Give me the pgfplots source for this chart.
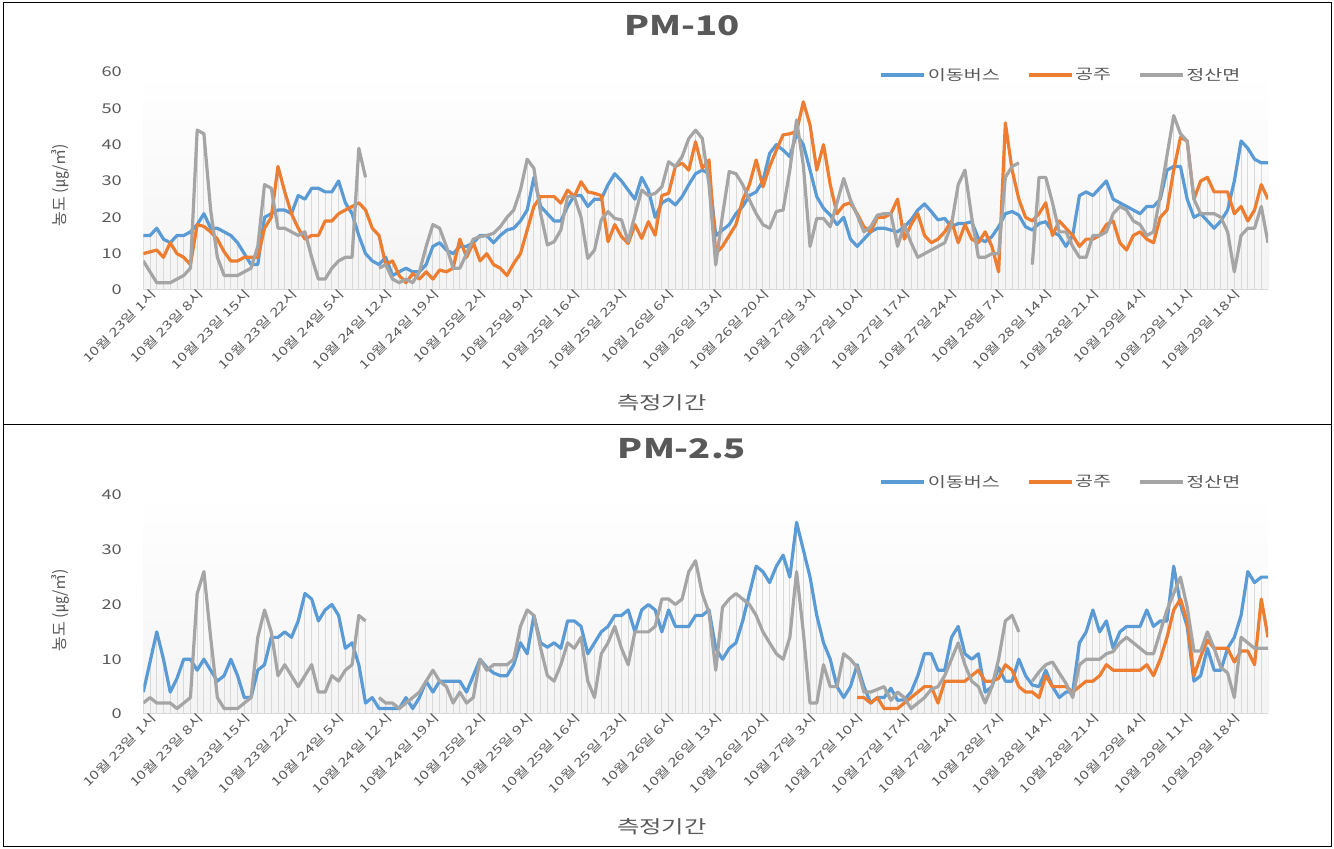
\documentclass[border=0pt]{standalone}
\usepackage{pgfplots}
\pgfplotsset{compat=1.18}
\usepackage{pgfplotstable}
\usepackage{fontspec}
\setmainfont{Noto Sans CJK KR}[FakeStretch=1.35]
\newfontfamily\plainfont{Noto Sans CJK KR}
\definecolor{cblue}{HTML}{5B9BD5}
\definecolor{corange}{HTML}{ED7D31}
\definecolor{cgray}{HTML}{A5A5A5}
\definecolor{ctext}{HTML}{595959}
\definecolor{cdrop}{HTML}{D9D9D9}

\pgfplotstableread{
i b o g
0 15 10 8
1 15 10.5 5
2 17 11 2
3 14 9 2
4 13 13 2
5 15 10 3
6 15 9 4
7 16 7 6
8 18 18 44
9 21 17.5 43
10 17 16 22
11 17 14 9
12 16 10.5 4
13 15 8 4
14 13 8 4
15 10 9 5
16 7 9 6
17 7 9 12
18 20 17 29
19 21 20 28
20 22 34 17
21 22 27 17
22 21 21 16
23 26 17 15
24 25 14 16
25 28 15 9
26 28 15 3
27 27 19 3
28 27 19 6
29 30 21 8
30 24 22 9
31 21 23 9
32 15 24 39
33 10 22 31
34 8 17 nan
35 7 15 6
36 9 7 7
37 4 8 3
38 5 4 2
39 6 2 3
40 5 4.5 2
41 5 3 5
42 7 5 12
43 12 3 18
44 13 5.5 17
45 11 5 12
46 10 6 6
47 12 14 6
48 12 9 10
49 13 13 14
50 15 8 14.7
51 15 10 15
52 13 7 15.6
53 15 6 17.4
54 16.5 4 20
55 17 7.3 22
56 19 10 27.5
57 22 16.5 36
58 31 23 33.5
59 23 25.7 21
60 21 25.7 12.4
61 19 25.7 13.3
62 19 23.9 16.5
63 23 27.5 25.7
64 26 25.7 25.7
65 26 29.8 20
66 23 27 8.7
67 25 26.6 11
68 25 26 19.3
69 29 13.3 21.6
70 32 18 19.7
71 30 14.7 19.3
72 27.5 12.8 13.3
73 25 18 20.6
74 31 14.2 27.5
75 27.5 18.8 26
76 20 15.1 26.6
77 24 26 28.4
78 25 26.6 35.3
79 23.4 34 34
80 25.7 34.9 36.7
81 29 33 41.7
82 32 40.8 44
83 33 33.5 41.7
84 32 35.8 29
85 15 10 6.9
86 16.5 12 20.6
87 18 15 32.6
88 21 18 32
89 23 24.8 29
90 26 29 24.8
91 27 35.8 21
92 30 28.4 18
93 37.6 34 17
94 40 38.5 21.6
95 38.5 42.7 22
96 36.7 43 33
97 43 43.6 46.8
98 40 51.8 34.4
99 33 45.4 12
100 25.7 33 19.7
101 22.5 40 19.7
102 20.6 29 17.4
103 18 21 24
104 20 23.4 30.7
105 14 24 24.8
106 12 21 20.6
107 14 17.4 16
108 16 16 17.4
109 17 20 20.6
110 17 20 21
111 16.5 21 21
112 16 25 12
113 17.4 14 18
114 19.3 18 13
115 22 21 9
116 23.7 15 10
117 21.6 13 11
118 19.3 14 12
119 19.7 16 13
120 17.4 19 18
121 18.3 13 29
122 18.3 18 33
123 18.8 14 20
124 14.2 13 9
125 13.3 16 9
126 14.7 12 10
127 17.4 5 10
128 21 46 31
129 21.6 33 34
130 20.6 25 35
131 17.4 20 nan
132 16.5 19 7
133 18.3 21 31
134 18.8 24 31
135 16 15 24
136 15 19 16
137 12 17 16
138 15 15 12
139 26 12 9
140 27 14 9
141 26 14 15
142 28 15 15
143 30 18 16
144 25 19 21
145 24 13 23
146 23 11 22
147 22 15 19
148 21 16 18
149 23 14 15
150 23 13 16
151 25 20 26
152 33 22 37
153 34 33 48
154 34 42 43
155 25 41 41
156 20 25 25
157 21 30 21
158 19 31 21
159 17 27 21
160 19 27 20
161 22 27 16
162 30 21 5
163 41 23 15
164 39 19 17
165 36 22 17
166 35 29 23
167 35 25 13
}\pmten

\pgfplotstableread{
i b o g
0 4 nan 2
1 9.5 nan 3
2 15 nan 2
3 10 nan 2
4 4 nan 2
5 6.5 nan 1
6 10 nan 2
7 10 nan 3
8 8 nan 22
9 10 nan 26
10 8 nan 14
11 6 nan 3
12 7 nan 1
13 10 nan 1
14 7 nan 1
15 3 nan 2
16 3 nan 3
17 8 nan 14
18 9 nan 19
19 14 nan 15
20 14 nan 7
21 15 nan 9
22 14 nan 7
23 17 nan 5
24 22 nan 7
25 21 nan 9
26 17 nan 4
27 19 nan 4
28 20 nan 7
29 18 nan 6
30 12 nan 8
31 13 nan 9
32 9 nan 18
33 2 nan 17
34 3 nan nan
35 1 nan 3
36 1 nan 2
37 1 nan 2
38 1 nan 1
39 3 nan 2
40 1 nan 3
41 3 nan 4
42 6 nan 6
43 4 nan 8
44 6 nan 6
45 6 nan 5
46 6 nan 2
47 6 nan 4
48 4 nan 2
49 7 nan 3
50 10 nan 10
51 8.5 nan 8
52 7.5 nan 9
53 7 nan 9
54 7 nan 9
55 9 nan 10
56 13 nan 16
57 11 nan 19
58 18 nan 18
59 13 nan 12
60 12.2 nan 7
61 13 nan 6
62 12 nan 9
63 17 nan 13
64 17 nan 12
65 16 nan 14
66 11 nan 6
67 13 nan 3
68 15 nan 11
69 16 nan 13
70 18 nan 16
71 18 nan 12
72 19 nan 9
73 15 nan 15
74 19 nan 15
75 20 nan 15
76 19 nan 16
77 15 nan 21
78 19 nan 21
79 16 nan 20
80 16 nan 21
81 16 nan 26
82 18 nan 28
83 18 nan 22
84 19 nan 18.5
85 12 nan 8
86 10 nan 19.5
87 12 nan 21
88 13 nan 22
89 17 nan 21
90 22 nan 20
91 27 nan 18
92 26 nan 15
93 24 nan 13
94 27 nan 11
95 29 nan 10
96 25 nan 14
97 35 nan 26
98 30 nan 15
99 25 nan 2
100 18 nan 2
101 13 nan 9
102 10 nan 5
103 5 nan 5
104 3 nan 11
105 5 nan 10
106 9 3 8.5
107 5 3 4
108 2 2 4
109 3 3 4.5
110 3 1 5
111 4.7 1 2.5
112 2.5 1 4
113 2.6 2 3
114 4 3 1
115 7 4 2
116 11 5 3
117 11 5 4.5
118 8 2 5
119 8 6 7
120 14 6 10
121 16 6 13
122 11 6 9
123 10 7 6
124 11 8 5
125 4 6 2
126 5 6 5
127 8.5 6.5 10
128 6 9 17
129 6 8 18
130 10 5 15
131 7 4 nan
132 5.3 4 6
133 5 3 7.7
134 8 7 9
135 5 5 9.5
136 3 5 7.5
137 4 5 5.6
138 4 4 3
139 13 5 9
140 15 6 10
141 19 6 10
142 15 7 10
143 17 9 11
144 12 8 11.4
145 15 8 13
146 16 8 14
147 16 8 13
148 16 8 12
149 19 9 11
150 16 7 11
151 17 10 15
152 17 14 19
153 27 19 22
154 20 21 25
155 16 17 19.5
156 6 7 11.5
157 7 10.5 11.5
158 12 13.5 15
159 8 12 12
160 8 12 8.5
161 12 12 7.5
162 14 9.5 3
163 18 11.5 14
164 26 11.5 13
165 24 9 12
166 25 21 12
167 25 14 12
}\pmtwo

\pgfplotsset{
  panel/.style={
    width=1124.7pt, scale only axis,
    xmin=0, xmax=167, ymin=0,
    axis x line*=bottom, axis y line*=left,
    x axis line style={draw=cdrop, line width=1pt, -},
    y axis line style={draw=none},
    tick style={draw=none},
    xtick={0,7,...,161},
    xticklabels={10월 23일 1시, 10월 23일 8시, 10월 23일 15시, 10월 23일 22시, 10월 24일 5시, 10월 24일 12시, 10월 24일 19시, 10월 25일 2시, 10월 25일 9시, 10월 25일 16시, 10월 25일 23시, 10월 26일 6시, 10월 26일 13시, 10월 26일 20시, 10월 27일 3시, 10월 27일 10시, 10월 27일 17시, 10월 27일 24시, 10월 28일 7시, 10월 28일 14시, 10월 28일 21시, 10월 29일 4시, 10월 29일 11시, 10월 29일 18시},
    xticklabel style={rotate=45, anchor=east, xshift=7pt, yshift=-9pt, font=\fontsize{12}{12.5}\selectfont, text=ctext, inner sep=1pt},
    yticklabel style={font=\fontsize{13.5}{14}\selectfont, text=ctext, xshift=-18pt},
    /pgf/number format/assume math mode=true,
    unbounded coords=jump,
    axis background/.style={shade, top color=white, bottom color=gray!9},
    legend columns=3,
    legend style={draw=none, fill=none, font=\fontsize{14.5}{16}\selectfont, text=ctext, anchor=center,
      /tikz/every even column/.append style={column sep=25pt}},
    legend image code/.code={\draw[#1] (0pt,0pt) -- (43pt,0pt);},
    title style={anchor=center, font=\bfseries\fontsize{27}{28}\selectfont, text=ctext},
    xlabel={측정기간},
    xlabel style={anchor=center, font=\fontsize{18}{20}\selectfont, text=ctext},
    ylabel={농도 (㎍/㎥)},
    ylabel style={anchor=center, font=\plainfont\fontsize{16}{18}\selectfont, text=ctext},
  },
  ser/.style={line width=3.2pt, line join=round, #1},
  drop/.style={ycomb, draw=cdrop, line width=0.9pt, forget plot},
}

\begin{document}
\begin{tikzpicture}[x=1pt,y=1pt]
\useasboundingbox (0,0) rectangle (1334,849);
\draw[black, line width=1pt] (3,2) rectangle (1331,846);
\draw[black, line width=1pt] (3,424) -- (1331,424);

\begin{axis}[panel, at={(143.3pt,559pt)}, anchor=south west, height=218pt,
  ymax=60, ytick={0,10,...,60},
  title={PM-10}, title style={at={(axis description cs:0.479,1.183)}},
  xlabel style={at={(axis description cs:0.461,-0.518)}},
  ylabel style={at={(axis description cs:-0.074,0.48)}},
  legend style={at={(axis description cs:0.816,0.986)}}]
\addplot[drop] table[x=i,y=b]{\pmten};
\addplot[drop] table[x=i,y=o]{\pmten};
\addplot[drop] table[x=i,y=g]{\pmten};
\addplot[ser=cblue] table[x=i,y=b]{\pmten};
\addplot[ser=corange] table[x=i,y=o]{\pmten};
\addplot[ser=cgray] table[x=i,y=g]{\pmten};
\legend{이동버스, 공주, 정산면}
\end{axis}

\begin{axis}[panel, at={(143.3pt,135pt)}, anchor=south west, height=219pt,
  ymax=40, ytick={0,10,...,40},
  title={PM-2.5}, title style={at={(axis description cs:0.479,1.183)}},
  xlabel style={at={(axis description cs:0.461,-0.516)}},
  ylabel style={at={(axis description cs:-0.074,0.475)}},
  legend style={at={(axis description cs:0.816,1.059)}}]
\addplot[drop] table[x=i,y=b]{\pmtwo};
\addplot[drop] table[x=i,y=o]{\pmtwo};
\addplot[drop] table[x=i,y=g]{\pmtwo};
\addplot[ser=cblue] table[x=i,y=b]{\pmtwo};
\addplot[ser=corange] table[x=i,y=o]{\pmtwo};
\addplot[ser=cgray] table[x=i,y=g]{\pmtwo};
\legend{이동버스, 공주, 정산면}
\end{axis}
\end{tikzpicture}
\end{document}
